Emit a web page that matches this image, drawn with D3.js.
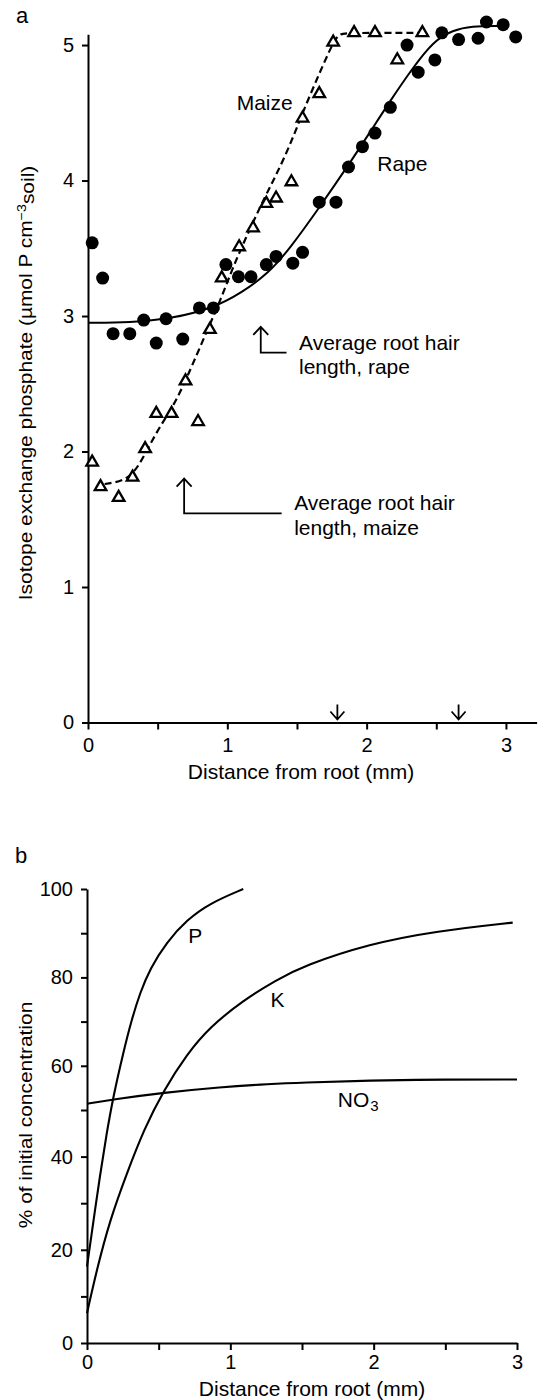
<!DOCTYPE html>
<html>
<head>
<meta charset="utf-8">
<script src="https://cdn.jsdelivr.net/npm/d3@7"></script>
<style>
body { margin: 0; background: #fff; }
text { font-family: "Liberation Sans", Arial, Helvetica, sans-serif; fill: #000; }
</style>
</head>
<body>
<div id="chart"></div>
<script>
// panel a: isotope exchangeable P around roots
var rapeX = [0.03, 0.105, 0.18, 0.30, 0.40, 0.49, 0.56, 0.68, 0.80, 0.90, 0.99, 1.08, 1.17, 1.28, 1.35, 1.47, 1.54, 1.66, 1.78, 1.87, 1.97, 2.06, 2.17, 2.29, 2.37, 2.49, 2.54, 2.66, 2.80, 2.86, 2.98, 3.07];
var rapeY = [3.54, 3.28, 2.87, 2.87, 2.97, 2.80, 2.98, 2.83, 3.06, 3.06, 3.38, 3.29, 3.29, 3.38, 3.44, 3.39, 3.47, 3.84, 3.84, 4.10, 4.25, 4.35, 4.54, 5.00, 4.80, 4.89, 5.09, 5.04, 5.05, 5.17, 5.15, 5.06];
var maizeX = [0.03, 0.09, 0.22, 0.32, 0.41, 0.49, 0.60, 0.70, 0.79, 0.875, 0.96, 1.085, 1.185, 1.28, 1.35, 1.46, 1.54, 1.66, 1.76, 1.91, 2.06, 2.22, 2.40];
var maizeY = [1.92, 1.74, 1.66, 1.81, 2.02, 2.28, 2.28, 2.52, 2.22, 2.90, 3.28, 3.51, 3.65, 3.83, 3.87, 3.99, 4.46, 4.64, 5.02, 5.09, 5.09, 4.89, 5.09];

// fitted curves
var rapeFitX = [0, 0.3, 0.6, 0.9, 1.1, 1.3, 1.45, 1.66, 1.88, 2.02, 2.17, 2.33, 2.48, 2.62, 2.75, 2.96];
var rapeFitY = [2.95, 2.95, 2.98, 3.06, 3.17, 3.32, 3.50, 3.80, 4.13, 4.35, 4.59, 4.83, 5.03, 5.11, 5.14, 5.14];
var maizeFitX = [0.12, 0.30, 0.40, 0.50, 0.61, 0.70, 0.875, 0.96, 1.04, 1.16, 1.28, 1.35, 1.45, 1.54, 1.66, 1.76, 1.80, 1.855, 2.38];
var maizeFitY = [1.76, 1.79, 1.96, 2.16, 2.33, 2.52, 2.94, 3.14, 3.36, 3.64, 3.90, 4.04, 4.26, 4.50, 4.79, 5.02, 5.08, 5.09, 5.09];

var xTicksA = [0, 0.5, 1, 1.5, 2, 2.5, 3];
var yTicksA = [0, 1, 2, 3, 4, 5];
var axisArrowX = [1.79, 2.66];

// root hair annotations (maize, rape)
var hairX = [0.69, 1.24];
var hairTipY = [1.80, 2.92];
var hairElbowY = [1.544, 2.73];
var hairEndX = [1.39, 1.425];
var hairText = [["Average root hair", "length, maize"], ["Average root hair", "length, rape"]];

// panel b: % of initial concentration
var pX = [0, 0.044, 0.091, 0.137, 0.183, 0.253, 0.312, 0.37, 0.44, 0.556, 0.696, 0.858, 1.09];
var pY = [16.4, 26.0, 36.0, 45.0, 53.0, 63.0, 70.5, 76.5, 82.0, 88.0, 93.0, 96.8, 100];
var kX = [0, 0.068, 0.16, 0.28, 0.40, 0.532, 0.696, 0.858, 1.09, 1.32, 1.51, 1.97, 2.44, 2.97];
var kY = [6.4, 15.7, 26.4, 36.6, 46.0, 54.3, 62.6, 68.8, 74.8, 79.4, 82.6, 87.6, 90.5, 92.4];
var no3X = [0, 0.183, 0.532, 0.93, 1.28, 1.49, 1.97, 2.5, 3.0];
var no3Y = [51.4, 52.4, 53.9, 55.2, 55.9, 56.2, 56.7, 56.9, 56.9];

var xTicksB = [0, 0.5, 1, 1.5, 2, 2.5, 3];
var yTicksB = [0, 10, 20, 30, 40, 50, 60, 70, 80, 90, 100];

var svg = d3.select("#chart").append("svg")
  .attr("width", 540)
  .attr("height", 1400);

function fmtInt(d) { return d % 1 === 0 ? d : ""; }

function styleAxis(g, size) {
  g.attr("font-family", null).attr("font-size", null);
  g.select(".domain").attr("stroke", "#000").attr("stroke-width", 2);
  g.selectAll(".tick line").attr("stroke", "#000").attr("stroke-width", 2);
  g.selectAll(".tick text").attr("font-size", size).attr("fill", "#000");
}

// ---------- panel a ----------
var xA = d3.scaleLinear().domain([0, 3.22]).range([88, 536.6]);
var yA = d3.scaleLinear().domain([0, 5.08]).range([722.5, 34.2]);

svg.append("g")
  .attr("transform", "translate(0," + yA(0) + ")")
  .call(d3.axisBottom(xA).tickValues(xTicksA).tickFormat(fmtInt).tickSize(7).tickPadding(8).tickSizeOuter(0))
  .call(styleAxis, 20);

svg.append("g")
  .attr("transform", "translate(" + xA(0) + ",0)")
  .call(d3.axisLeft(yA).tickValues(yTicksA).tickFormat(d3.format("d")).tickSize(6).tickPadding(8).tickSizeOuter(0))
  .call(styleAxis, 20);

var lineA = d3.line()
  .x(function (d) { return xA(d[0]); })
  .y(function (d) { return yA(d[1]); })
  .curve(d3.curveBasis);

svg.append("path")
  .datum(d3.zip(rapeFitX, rapeFitY))
  .attr("d", lineA)
  .attr("fill", "none").attr("stroke", "#000").attr("stroke-width", 2);

svg.append("path")
  .datum(d3.zip(maizeFitX, maizeFitY))
  .attr("d", lineA)
  .attr("fill", "none").attr("stroke", "#000").attr("stroke-width", 2.2)
  .attr("stroke-dasharray", "7,4");

svg.selectAll("path.maize")
  .data(d3.zip(maizeX, maizeY))
  .enter().append("path")
  .attr("class", "maize")
  .attr("d", d3.symbol(d3.symbolTriangle, 58))
  .attr("transform", function (d) { return "translate(" + xA(d[0]) + "," + yA(d[1]) + ")"; })
  .attr("fill", "#fff").attr("stroke", "#000").attr("stroke-width", 2.3);

svg.selectAll("circle.rape")
  .data(d3.zip(rapeX, rapeY))
  .enter().append("circle")
  .attr("class", "rape")
  .attr("cx", function (d) { return xA(d[0]); })
  .attr("cy", function (d) { return yA(d[1]); })
  .attr("r", 6.5)
  .attr("fill", "#000");

// series labels
svg.append("text").attr("x", xA(1.067)).attr("y", yA(4.52)).attr("font-size", 21).text("Maize");
svg.append("text").attr("x", xA(2.076)).attr("y", yA(4.07)).attr("font-size", 21).text("Rape");

// root hair arrows
hairX.forEach(function (hx, i) {
  var px = xA(hx), ty = yA(hairTipY[i]), ey = yA(hairElbowY[i]), ex = xA(hairEndX[i]);
  svg.append("path")
    .attr("d", "M" + px + "," + ty + "V" + ey + "H" + ex +
      "M" + (px - 7.5) + "," + (ty + 8) + "L" + px + "," + ty + "L" + (px + 7.5) + "," + (ty + 8))
    .attr("fill", "none").attr("stroke", "#000").attr("stroke-width", 1.8);
  svg.append("text").attr("x", ex + 12.5).attr("y", ey - 3).attr("font-size", 21).text(hairText[i][0]);
  svg.append("text").attr("x", ex + 12.5).attr("y", ey + 21.5).attr("font-size", 21).text(hairText[i][1]);
});

// small arrows on the x axis
axisArrowX.forEach(function (ax) {
  var px = xA(ax), y0 = yA(0);
  svg.append("path")
    .attr("d", "M" + px + "," + (y0 - 18) + "V" + (y0 - 3) +
      "M" + (px - 7) + "," + (y0 - 11) + "L" + px + "," + (y0 - 3) + "L" + (px + 7) + "," + (y0 - 11))
    .attr("fill", "none").attr("stroke", "#000").attr("stroke-width", 1.8);
});

svg.append("text").attr("x", 301).attr("y", 778.5).attr("text-anchor", "middle").attr("font-size", 21)
  .text("Distance from root (mm)");

var ylabA = svg.append("text")
  .attr("transform", "translate(31.5,383) rotate(-90) scale(1.1,1)")
  .attr("text-anchor", "middle").attr("font-size", 19);
ylabA.append("tspan").text("Isotope exchange phosphate (\u00b5mol P cm");
ylabA.append("tspan").attr("dy", "-0.45em").attr("font-size", 13).text("\u22123");
ylabA.append("tspan").attr("dy", "0.45em").text("soil)");

svg.append("text").attr("x", 16).attr("y", 23).attr("font-size", 22).text("a");

// ---------- panel b ----------
var xB = d3.scaleLinear().domain([0, 3]).range([87, 517]);
var yB = d3.scaleLinear().domain([0, 50, 100]).range([1343, 1110, 889]);

svg.append("g")
  .attr("transform", "translate(0," + yB(0) + ")")
  .call(d3.axisBottom(xB).tickValues(xTicksB).tickFormat(fmtInt).tickSize(7).tickPadding(5).tickSizeOuter(0))
  .call(styleAxis, 20);

svg.append("g")
  .attr("transform", "translate(" + xB(0) + ",0)")
  .call(d3.axisLeft(yB).tickValues(yTicksB).tickFormat(function (d) { return d % 20 === 0 ? d : ""; })
    .tickSize(6).tickPadding(8).tickSizeOuter(0))
  .call(styleAxis, 20);

var lineB = d3.line()
  .x(function (d) { return xB(d[0]); })
  .y(function (d) { return yB(d[1]); })
  .curve(d3.curveBasis);

[[pX, pY], [kX, kY], [no3X, no3Y]].forEach(function (s) {
  svg.append("path")
    .datum(d3.zip(s[0], s[1]))
    .attr("d", lineB)
    .attr("fill", "none").attr("stroke", "#000").attr("stroke-width", 2.1);
});

svg.append("text").attr("x", xB(0.707)).attr("y", yB(87.8)).attr("font-size", 21).text("P");
svg.append("text").attr("x", xB(1.28)).attr("y", yB(73.3)).attr("font-size", 21).text("K");
var no3Lab = svg.append("text").attr("x", xB(1.75)).attr("y", yB(50.7)).attr("font-size", 21);
no3Lab.append("tspan").text("NO");
no3Lab.append("tspan").attr("dy", 4).attr("dx", 1).attr("font-size", 15).text("3");

svg.append("text").attr("x", 312).attr("y", 1396).attr("text-anchor", "middle").attr("font-size", 21)
  .text("Distance from root (mm)");

svg.append("text")
  .attr("transform", "translate(31.5,1115) rotate(-90) scale(1.1,1)")
  .attr("text-anchor", "middle").attr("font-size", 19)
  .text("% of initial concentration");

svg.append("text").attr("x", 15).attr("y", 863).attr("font-size", 22).text("b");
</script>
</body>
</html>
